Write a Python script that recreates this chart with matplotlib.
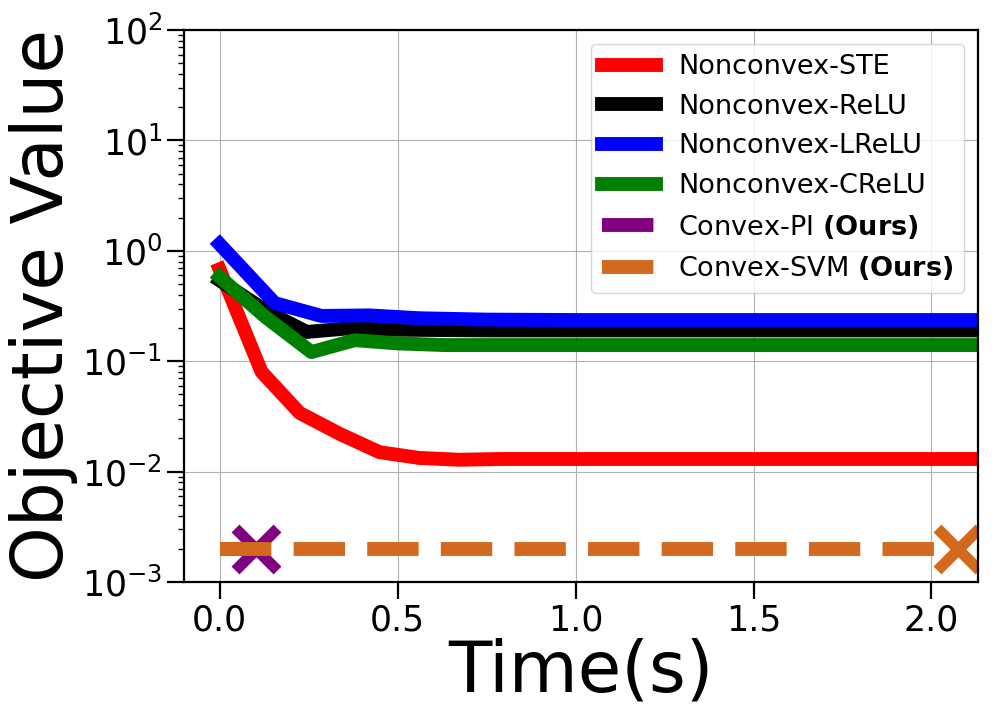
import numpy as np
import matplotlib
matplotlib.use('Agg')
import matplotlib.pyplot as plt

# Objective value vs wall-clock time
t_ste = [0.0, 0.118, 0.225, 0.337, 0.449, 0.56, 0.674, 0.786, 1.0, 1.5, 2.0, 2.2]
v_ste = [0.68, 0.08, 0.034, 0.022, 0.015, 0.0133, 0.0128, 0.013, 0.013, 0.013, 0.013, 0.013]

t_relu = [0.0, 0.135, 0.245, 0.375, 0.5, 0.75, 1.0, 1.5, 2.0, 2.2]
v_relu = [0.54, 0.28, 0.184, 0.2, 0.193, 0.19, 0.19, 0.19, 0.19, 0.19]

t_lrelu = [0.0, 0.155, 0.286, 0.42, 0.56, 0.75, 1.0, 1.5, 2.0, 2.2]
v_lrelu = [1.15, 0.336, 0.257, 0.26, 0.245, 0.238, 0.236, 0.236, 0.236, 0.236]

t_crelu = [0.0, 0.13, 0.258, 0.38, 0.5, 0.63, 1.0, 1.5, 2.0, 2.2]
v_crelu = [0.58, 0.25, 0.121, 0.155, 0.145, 0.14, 0.14, 0.14, 0.14, 0.14]

t_pi = [0.0, 0.102]
v_pi = [0.002, 0.002]

t_svm = [0.0, 2.075]
v_svm = [0.002, 0.002]

x_ticks = [0.0, 0.5, 1.0, 1.5, 2.0]

fig = plt.figure(figsize=(10.08, 7.2), dpi=100)
ax = fig.add_axes([0.1825, 0.1917, 0.7875, 0.7666])

lw = 10
ax.plot(t_ste, v_ste, color='red', lw=lw, label='Nonconvex-STE')
ax.plot(t_relu, v_relu, color='black', lw=lw, label='Nonconvex-ReLU')
ax.plot(t_lrelu, v_lrelu, color='blue', lw=lw, label='Nonconvex-LReLU')
ax.plot(t_crelu, v_crelu, color='green', lw=lw, label='Nonconvex-CReLU')
ax.plot(t_pi, v_pi, color='purple', lw=lw, ls='--', label=r'Convex-PI $\bf{(Ours)}$')
ax.plot(t_pi[-1], v_pi[-1], marker='x', color='purple', ms=30, mew=8, ls='none')
ax.plot(t_svm, v_svm, color='chocolate', lw=lw, ls='--', label=r'Convex-SVM $\bf{(Ours)}$')
ax.plot(t_svm[-1], v_svm[-1], marker='x', color='chocolate', ms=30, mew=8, ls='none')

ax.set_yscale('log')
ax.set_ylim(1e-3, 1e2)
ax.set_xlim(-0.1, 2.13)
ax.set_xticks(x_ticks)
ax.grid(True, which='major', color='#b0b0b0', lw=0.8)

ax.tick_params(axis='both', which='major', labelsize=25, length=12, width=1.6)
ax.tick_params(axis='both', which='minor', length=4, width=1)
for s in ax.spines.values():
    s.set_linewidth(1.6)

ax.set_xlabel('Time(s)', fontsize=51, labelpad=0)
ax.set_ylabel('Objective Value', fontsize=51, labelpad=3)

ax.legend(loc='upper right', fontsize=19.5)

fig.savefig('out.png', dpi=100)
